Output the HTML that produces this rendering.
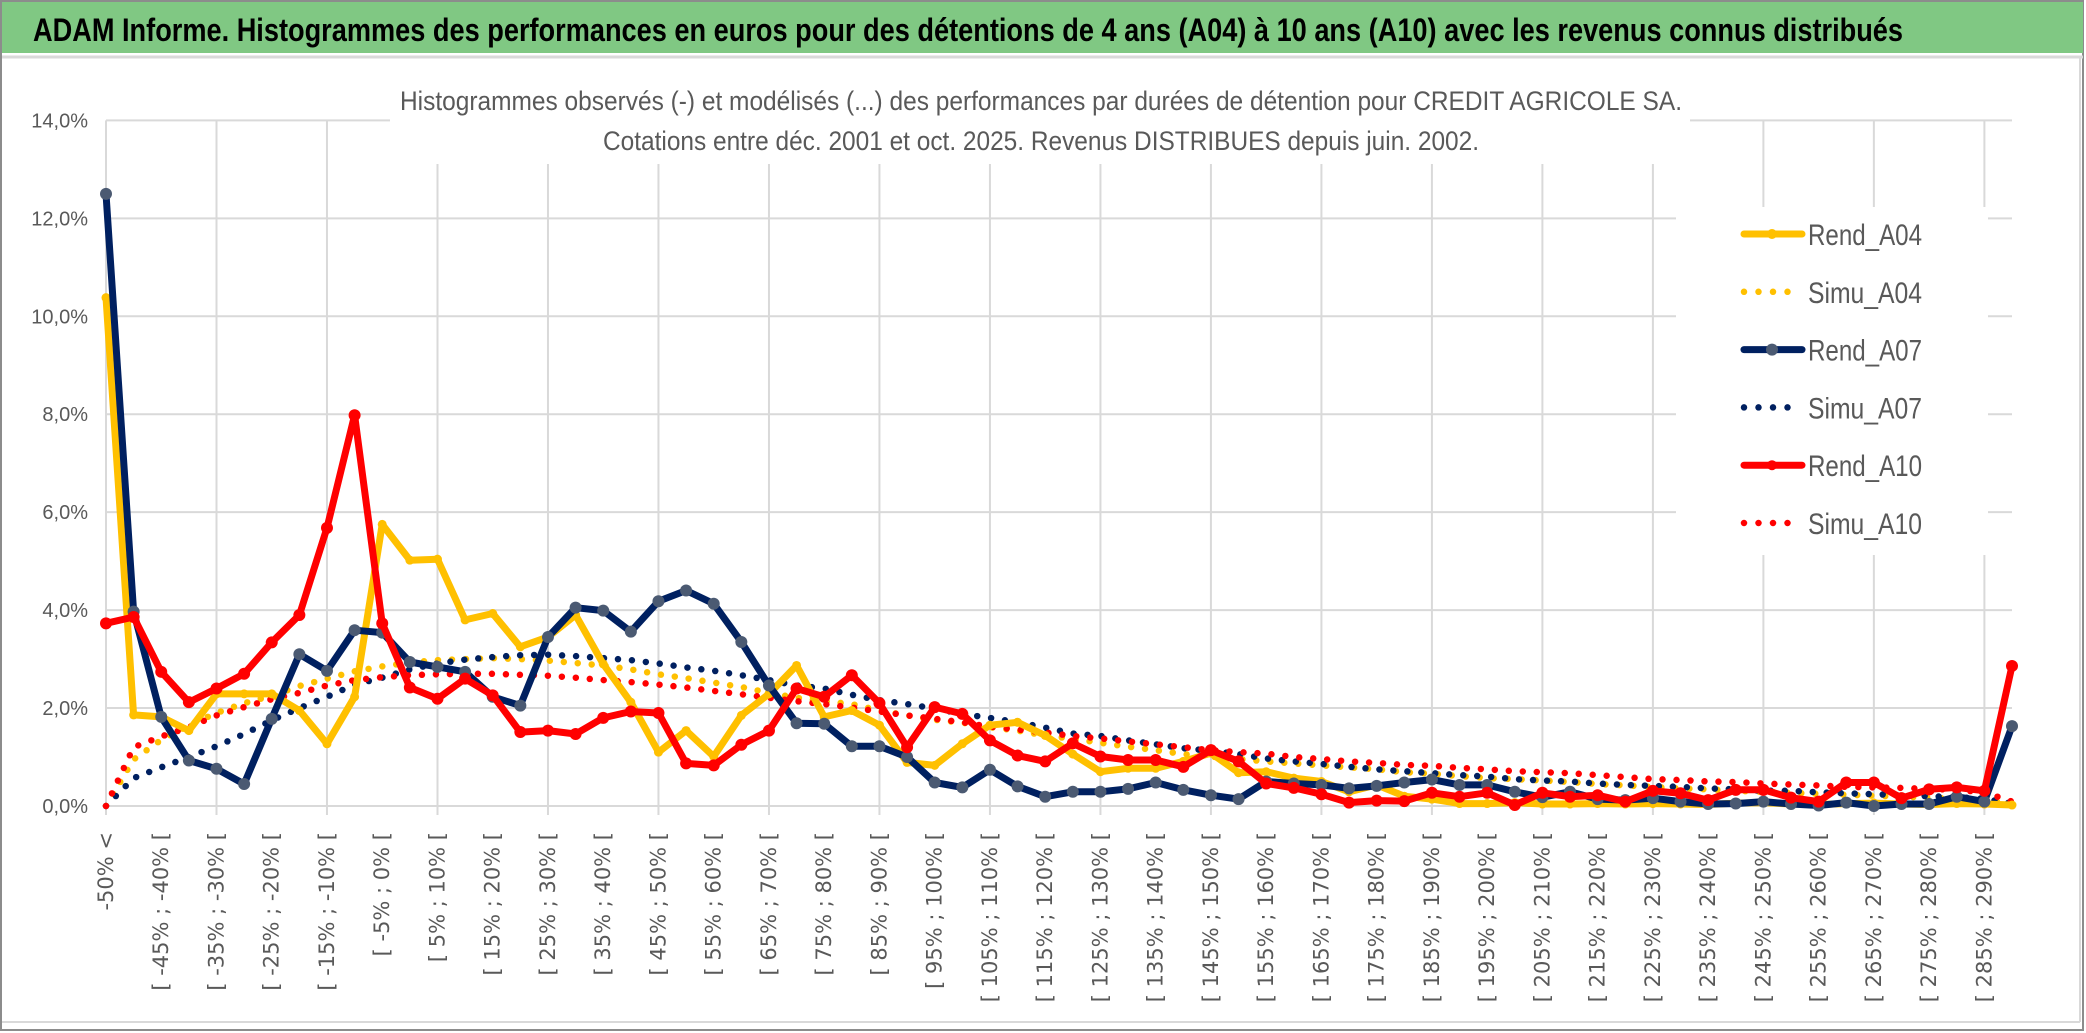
<!DOCTYPE html>
<html><head><meta charset="utf-8"><style>
html,body{margin:0;padding:0;background:#fff;}
svg{display:block;}
</style></head><body>
<svg id="chart" width="2086" height="1033" viewBox="0 0 2086 1033" xmlns="http://www.w3.org/2000/svg" font-family="'Liberation Sans', sans-serif">
<rect x="0" y="0" width="2086" height="1033" fill="#fff"/>
<rect x="1" y="1" width="2082" height="1029" fill="none" stroke="#8c8c8c" stroke-width="2"/>
<rect x="2" y="2" width="2081" height="51" fill="#80c883"/>
<line x1="2" y1="57" x2="2083" y2="57" stroke="#d9d9d9" stroke-width="3"/>
<line x1="2" y1="1022" x2="2080" y2="1022" stroke="#d9d9d9" stroke-width="2"/>
<line x1="2080" y1="58" x2="2080" y2="1022" stroke="#d9d9d9" stroke-width="2"/>
<text x="33" y="41" font-size="32" font-weight="bold" fill="#000" textLength="1870" lengthAdjust="spacingAndGlyphs">ADAM Informe. Histogrammes des performances en euros pour des détentions de 4 ans (A04) à 10 ans (A10) avec les revenus connus distribués</text>
<g id="grid"></g>
<rect x="390" y="70" width="1300" height="94" fill="#fff"/>
<text x="1041" y="110" font-size="27" fill="#595959" text-anchor="middle" textLength="1282" lengthAdjust="spacingAndGlyphs">Histogrammes observés (-) et modélisés (...) des performances par durées de détention pour CREDIT AGRICOLE SA.</text>
<text x="1041" y="150" font-size="27" fill="#595959" text-anchor="middle" textLength="876" lengthAdjust="spacingAndGlyphs">Cotations entre déc. 2001 et oct. 2025. Revenus DISTRIBUES depuis juin. 2002.</text>
<g id="yaxis"></g>
<g id="xaxis"></g>
<g id="series"></g>
<g id="legend"></g>
</svg>
<script>
const yTicks = [0, 2, 4, 6, 8, 10, 12, 14];
const yTickLabels = ["0,0%", "2,0%", "4,0%", "6,0%", "8,0%", "10,0%", "12,0%", "14,0%"];
const categories = ["-50% <"];
for (let a = -50; a < 290; a += 5) { categories.push("[ " + a + "% ; " + (a + 5) + "% ["); }
categories.push("290% <");

const rendA04 = [10.38,1.86,1.82,1.54,2.29,2.29,2.29,1.95,1.27,2.23,
5.75,5.02,5.04,3.80,3.93,3.25,3.45,3.90,2.90,2.12,
1.10,1.54,1.01,1.85,2.29,2.87,1.82,1.95,1.65,0.89,
0.83,1.27,1.65,1.71,1.44,1.06,0.70,0.77,0.77,0.91,
1.08,0.68,0.70,0.57,0.50,0.29,0.43,0.20,0.14,0.05,
0.05,0.07,0.04,0.04,0.05,0.04,0.05,0.04,0.03,0.06,
0.07,0.04,0.03,0.05,0.06,0.04,0.03,0.05,0.04,0.02];
const simuA04 = [0,0.95,1.35,1.65,1.9,2.1,2.25,2.45,2.6,2.75,
2.85,2.93,2.98,3.0,3.02,3.0,2.97,2.92,2.87,2.79,
2.69,2.61,2.52,2.43,2.31,2.21,2.14,2.08,1.95,1.85,
1.76,1.70,1.61,1.54,1.44,1.37,1.29,1.21,1.14,1.06,
1.01,0.96,0.91,0.87,0.83,0.79,0.75,0.69,0.66,0.61,
0.57,0.55,0.52,0.49,0.45,0.42,0.39,0.36,0.34,0.31,
0.29,0.27,0.25,0.23,0.21,0.19,0.17,0.15,0.12,0.04];
const rendA07 = [12.5,3.97,1.82,0.93,0.76,0.45,1.78,3.10,2.76,3.59,
3.54,2.94,2.84,2.74,2.23,2.05,3.45,4.05,3.99,3.56,
4.18,4.40,4.13,3.35,2.46,1.69,1.68,1.22,1.22,1.00,
0.48,0.38,0.74,0.40,0.19,0.29,0.29,0.35,0.48,0.33,
0.22,0.14,0.50,0.46,0.43,0.36,0.41,0.48,0.54,0.43,
0.43,0.29,0.18,0.29,0.14,0.12,0.16,0.09,0.04,0.05,
0.09,0.04,0.01,0.07,0.00,0.04,0.04,0.19,0.09,1.63];
const simuA07 = [0,0.57,0.79,1.0,1.22,1.47,1.75,2.0,2.23,2.48,
2.62,2.79,2.91,2.99,3.04,3.08,3.09,3.06,3.02,2.98,
2.91,2.83,2.76,2.67,2.57,2.46,2.40,2.27,2.16,2.08,
1.99,1.88,1.80,1.71,1.60,1.48,1.43,1.34,1.26,1.18,
1.13,1.06,0.97,0.91,0.86,0.80,0.75,0.71,0.67,0.63,
0.60,0.55,0.52,0.50,0.46,0.43,0.41,0.39,0.36,0.34,
0.31,0.31,0.28,0.26,0.24,0.22,0.20,0.18,0.15,0.05];
const rendA10 = [3.73,3.86,2.74,2.12,2.40,2.70,3.34,3.90,5.68,7.98,
3.73,2.42,2.19,2.60,2.26,1.51,1.54,1.47,1.80,1.93,
1.90,0.87,0.83,1.25,1.54,2.40,2.23,2.67,2.10,1.20,
2.02,1.88,1.34,1.03,0.91,1.28,1.01,0.94,0.94,0.80,
1.14,0.91,0.46,0.37,0.24,0.07,0.11,0.10,0.27,0.19,
0.27,0.02,0.27,0.19,0.22,0.09,0.31,0.26,0.12,0.33,
0.33,0.17,0.09,0.48,0.48,0.16,0.34,0.38,0.31,2.86];
const simuA10 = [0,1.2,1.42,1.61,1.85,2.02,2.18,2.31,2.46,2.57,
2.63,2.67,2.69,2.70,2.70,2.68,2.66,2.62,2.57,2.53,
2.48,2.42,2.35,2.28,2.21,2.14,2.08,2.01,1.93,1.85,
1.78,1.71,1.62,1.56,1.50,1.43,1.38,1.32,1.26,1.20,
1.14,1.10,1.07,1.00,0.96,0.91,0.88,0.84,0.82,0.78,
0.75,0.71,0.69,0.67,0.63,0.59,0.55,0.53,0.50,0.49,
0.46,0.44,0.42,0.39,0.38,0.37,0.35,0.33,0.28,0.09];

const NS = "http://www.w3.org/2000/svg";
const X0 = 106, X1 = 2012, Y0 = 806, Y1 = 120.4, YMAX = 14;
function xScale(i) { return X0 + (X1 - X0) * i / (categories.length - 1); }
function yScale(v) { return Y0 - (Y0 - Y1) * v / YMAX; }
function mk(tag, attrs, parent) {
  const el = document.createElementNS(NS, tag);
  for (const k in attrs) el.setAttribute(k, attrs[k]);
  parent.appendChild(el);
  return el;
}
const grid = document.getElementById("grid");
const yaxis = document.getElementById("yaxis");
const xaxis = document.getElementById("xaxis");
const seriesG = document.getElementById("series");
const legend = document.getElementById("legend");

yTicks.forEach(function (t, k) {
  const y = yScale(t);
  const gl = mk("line", {x1: X0, y1: y, x2: X1, y2: y, stroke: "#d9d9d9", "stroke-width": 2}, grid);
  
  
  const lb = mk("text", {x: 88, y: y + 7, "font-size": 20, fill: "#595959", "text-anchor": "end"}, yaxis);
  lb.textContent = yTickLabels[k];
  
  
});
for (let i = 0; i < categories.length; i += 4) {
  const x = xScale(i);
  const gl = mk("line", {x1: x, y1: Y1, x2: x, y2: Y0 + 9, stroke: "#d9d9d9", "stroke-width": 2}, grid);
  
  
}
categories.forEach(function (c, i) {
  if (i % 2 !== 0) return;
  const x = xScale(i);
  const t = mk("text", {x: 0, y: 0, "font-size": 21, "font-family": "'DejaVu Sans', sans-serif", fill: "#595959", "text-anchor": "end",
    transform: "translate(" + (x + 7) + ",832) rotate(-90)"}, xaxis);
  t.textContent = c;
  
  
});

function drawSimu(vals, color, name) {
  const pts = vals.map(function (v, i) { return xScale(i).toFixed(1) + "," + yScale(v).toFixed(1); }).join(" ");
  const p = mk("polyline", {points: pts, fill: "none", stroke: color, "stroke-width": 6.5, "stroke-linecap": "round", "stroke-dasharray": "0 14"}, seriesG);
  
  
}
function drawRend(vals, color, marker, r, name) {
  const pts = vals.map(function (v, i) { return xScale(i).toFixed(1) + "," + yScale(v).toFixed(1); }).join(" ");
  const p = mk("polyline", {points: pts, fill: "none", stroke: color, "stroke-width": 7, "stroke-linejoin": "round"}, seriesG);
  
  
  vals.forEach(function (v, i) {
    const c = mk("circle", {cx: xScale(i), cy: yScale(v), r: r, fill: marker}, seriesG);
    
    
  });
}
drawSimu(simuA04, "#ffc000", "simu-a04-line");
drawSimu(simuA07, "#002060", "simu-a07-line");
drawSimu(simuA10, "#ff0000", "simu-a10-line");
drawRend(rendA04, "#ffc000", "#ffc000", 4.5, "rend-a04-line");
drawRend(rendA07, "#002060", "#4b5a72", 6, "rend-a07-line");
drawRend(rendA10, "#ff0000", "#ff0000", 6, "rend-a10-line");

mk("rect", {x: 1676, y: 207, width: 312, height: 348, fill: "#fff"}, legend);
const legendNames = ["Rend_A04", "Simu_A04", "Rend_A07", "Simu_A07", "Rend_A10", "Simu_A10"];
const legendColors = ["#ffc000", "#ffc000", "#002060", "#002060", "#ff0000", "#ff0000"];
legendNames.forEach(function (n, k) {
  const y = 234 + k * 57.8;
  const g = mk("g", {}, legend);
  
  
  if (k % 2 === 0) {
    mk("line", {x1: 1744, y1: y, x2: 1802, y2: y, stroke: legendColors[k], "stroke-width": 7, "stroke-linecap": "round"}, g);
    mk("circle", {cx: 1772, cy: y, r: k === 2 ? 6 : 5, fill: k === 2 ? "#4b5a72" : legendColors[k]}, g);
  } else {
    mk("line", {x1: 1744, y1: y, x2: 1795, y2: y, stroke: legendColors[k], "stroke-width": 6.5, "stroke-linecap": "round", "stroke-dasharray": "0 14.5"}, g);
  }
  const t = mk("text", {x: 1808, y: y + 11, "font-size": 30, fill: "#595959", textLength: 114, lengthAdjust: "spacingAndGlyphs"}, g);
  t.textContent = n;
});
</script>
</body></html>
